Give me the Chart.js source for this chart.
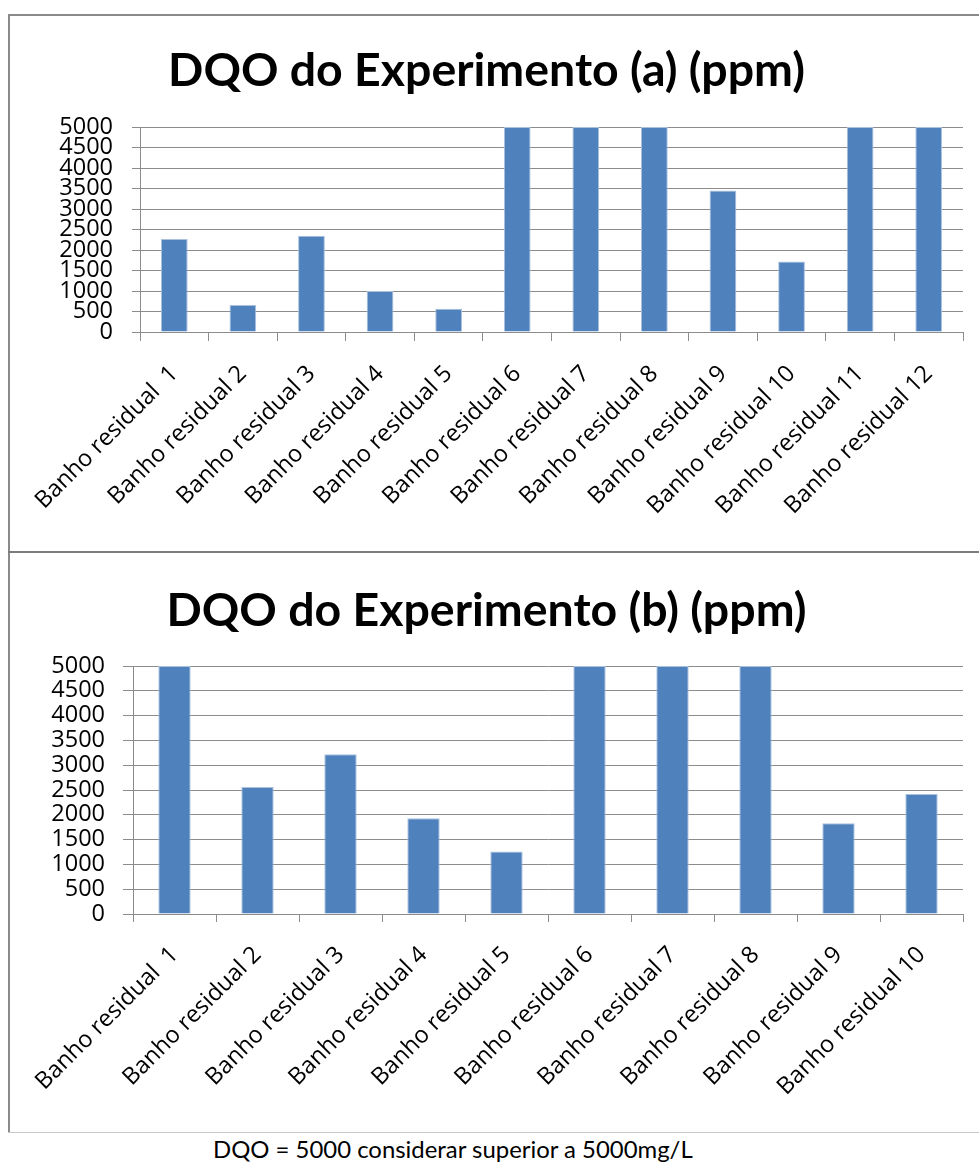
<!DOCTYPE html>
<html><head><meta charset="utf-8">
<script src="https://cdn.jsdelivr.net/npm/chart.js@4.4.1/dist/chart.umd.min.js"></script>
<style>
html,body{margin:0;padding:0;background:#fff;width:979px;height:1163px;overflow:hidden;position:relative;}
.ln{position:absolute;}
canvas{position:absolute;}
#note{position:absolute;left:213px;top:1136px;font-family:'Lato';font-size:22px;color:#000;white-space:nowrap;line-height:1.1;}
</style></head><body>
<div class="ln" style="left:8px;top:14px;width:971px;height:2px;background:#8a8a8a"></div>
<div class="ln" style="left:8px;top:14px;width:2px;height:1119px;background:#8a8a8a"></div>
<div class="ln" style="left:8px;top:551px;width:971px;height:2px;background:#7c7c7c"></div>
<div class="ln" style="left:8px;top:1132px;width:971px;height:1px;background:#c8c8c8"></div>
<canvas id="ca" width="969" height="535" style="left:10px;top:16px"></canvas>
<canvas id="cb" width="969" height="579" style="left:10px;top:553px"></canvas>
<div id="note">DQO = 5000 considerar superior a 5000mg/L</div>
<script>
// ---- data ----
const titleA = 'DQO do Experimento (a) (ppm)';
const titleB = 'DQO do Experimento (b) (ppm)';
const categoriesA = ['Banho residual  1','Banho residual 2','Banho residual 3','Banho residual 4','Banho residual 5','Banho residual 6','Banho residual 7','Banho residual 8','Banho residual 9','Banho residual 10','Banho residual 11','Banho residual 12'];
const valuesA = [2270, 660, 2350, 1000, 570, 5000, 5000, 5000, 3450, 1720, 5000, 5000];
const categoriesB = ['Banho residual  1','Banho residual 2','Banho residual 3','Banho residual 4','Banho residual 5','Banho residual 6','Banho residual 7','Banho residual 8','Banho residual 9','Banho residual 10'];
const valuesB = [5000, 2560, 3220, 1930, 1260, 5000, 5000, 5000, 1830, 2420];
const yTickValues = [0, 500, 1000, 1500, 2000, 2500, 3000, 3500, 4000, 4500, 5000];

// ---- helpers ----
function fitSize(text, family, weight, target){
  const c = document.createElement('canvas').getContext('2d');
  c.font = weight + ' 100px ' + family;
  return 100 * target / c.measureText(text).width;
}
const TITLE_FAMILY = "Lato";
const titleSize = fitSize(titleA, "'Lato'", 'bold', 637);
const noteEl = document.getElementById('note');
noteEl.style.fontSize = fitSize(noteEl.textContent, "'Lato'", 'normal', 481) + 'px';

const GRID = '#8c8c8c';
function makeChart(id, title, cats, vals, o){
  return new Chart(document.getElementById(id), {
    type: 'bar',
    data: { labels: cats, datasets: [{ data: vals, backgroundColor: '#4f81bd', borderColor: '#a9c1df', borderWidth: 1, barPercentage: 0.39, categoryPercentage: 1 }] },
    options: {
      responsive: false, animation: false, devicePixelRatio: 1,
      layout: { padding: { left: 0, right: 16, top: 0, bottom: 0 } },
      plugins: {
        legend: { display: false }, tooltip: { enabled: false },
        title: { display: true, text: title, color: '#000',
          font: { family: TITLE_FAMILY, weight: 'bold', size: titleSize, lineHeight: 1.2 },
          padding: { top: o.titleCenter - titleSize*0.6, bottom: o.plotTop - o.titleCenter - titleSize*0.6 } }
      },
      scales: {
        x: {
          grid: { drawOnChartArea: false, drawTicks: true, tickLength: o.xTick, color: GRID, offset: true },
          border: { display: true, color: GRID },
          ticks: { autoSkip: false, maxRotation: 45, minRotation: 45, color: '#000', padding: 19,
                   font: { family: 'Open Sans', size: 23.5 } },
          afterFit: s => { s.height = o.xHeight; }
        },
        y: {
          min: 0, max: 5000,
          afterBuildTicks: s => { s.ticks = yTickValues.map(v => ({ value: v })); },
          grid: { color: GRID, drawTicks: true, tickLength: o.yTick },
          border: { display: true, color: GRID },
          ticks: { autoSkip: false, color: '#000', padding: o.yPad, font: { family: 'Open Sans', size: 23.5 },
                   callback: v => String(v) },
          afterFit: s => { s.width = o.yWidth; }
        }
      }
    }
  });
}
makeChart('ca', titleA, categoriesA, valuesA, { titleCenter: 55, plotTop: 111, xHeight: 219, yWidth: 130, yTick: 8, yPad: 19, xTick: 9 });
makeChart('cb', titleB, categoriesB, valuesB, { titleCenter: 58, plotTop: 113, xHeight: 218, yWidth: 123, yTick: 10, yPad: 18, xTick: 8 });
</script>
</body></html>
